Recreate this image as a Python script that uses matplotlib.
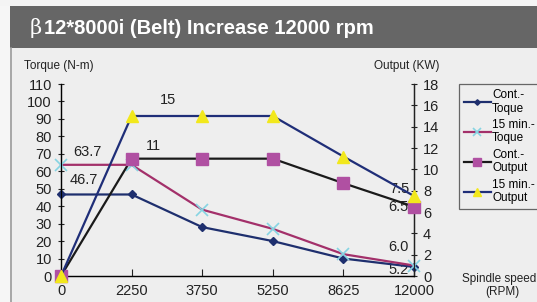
import matplotlib
matplotlib.use("Agg")
import matplotlib.pyplot as plt
from matplotlib.patches import Rectangle
from matplotlib.lines import Line2D

plt.rcParams['font.family'] = ['Liberation Sans', 'DejaVu Sans']

speeds = ["0", "2250", "3750", "5250", "8625", "12000"]
cont_torque = [46.7, 46.7, 28, 20, 10, 5.2]
min15_torque = [63.7, 63.7, 38, 27, 12.5, 6.0]
cont_output = [0, 11, 11, 11, 8.7, 6.5]
min15_output = [0, 15, 15, 15, 11.2, 7.5]

W, H = 537, 302
fig = plt.figure(figsize=(W / 100, H / 100), dpi=100)
fig.patch.set_facecolor('#eeeeee')

# background decoration
fig.patches.append(Rectangle((0, 0), 10 / W, 1, transform=fig.transFigure,
                             facecolor='#f6f6f6', edgecolor='none', zorder=0))
fig.patches.append(Rectangle((0, 1 - 6 / H), 1, 6 / H, transform=fig.transFigure,
                             facecolor='#f4f4f4', edgecolor='none', zorder=0))
fig.patches.append(Rectangle((10 / W, 1 - 48 / H), 1, 42 / H, transform=fig.transFigure,
                             facecolor='#666666', edgecolor='none', zorder=1))
fig.lines.append(Line2D([11 / W, 11 / W], [0, 1 - 48 / H], transform=fig.transFigure,
                        color='#9a9a9a', lw=1.2))
fig.text(30 / W, 1 - 28 / H, "\u03b2", color='white', fontsize=15,
         va='center', ha='left', family=['DejaVu Serif'])
fig.text(44 / W, 1 - 28 / H, "12*8000i (Belt) Increase 12000 rpm", color='white',
         fontsize=14.5, fontweight='bold', va='center', ha='left')

ax = fig.add_axes([61 / W, (302 - 276) / H, (414 - 61) / W, (276 - 84) / H])
ax.set_facecolor('none')
x = list(range(len(speeds)))
ax.set_xlim(0, len(speeds) - 1)
ax.set_ylim(0, 110)
ax.set_yticks(range(0, 111, 10))
ax.set_xticks(x)
ax.set_xticklabels(speeds)
ax.spines['top'].set_visible(False)
for s in ['left', 'bottom', 'right']:
    ax.spines[s].set_color('#222222')
    ax.spines[s].set_linewidth(1.0)
ax.tick_params(axis='both', direction='inout', length=5, width=0.8, labelsize=10.5,
               colors='#222222', pad=4)
ax.tick_params(axis='x', direction='in', length=5, pad=6)

ax2 = ax.twinx()
ax2.set_ylim(0, 18)
ax2.set_yticks(range(0, 19, 2))
ax2.spines['top'].set_visible(False)
ax2.spines['right'].set_color('#222222')
ax2.tick_params(axis='y', direction='inout', length=5, width=0.8, labelsize=10.5,
                colors='#222222', pad=4)

navy = '#1e2f6e'
l1, = ax.plot(x, cont_torque, color=navy, lw=1.6, marker='D', ms=4,
              mfc=navy, mec=navy, clip_on=False, zorder=5)
l2, = ax.plot(x, min15_torque, color='#a3306a', lw=1.6, marker='x', ms=8,
              mec='#86d4e2', mew=1.2, clip_on=False, zorder=5)
l3, = ax2.plot(x, cont_output, color='#1a1a1a', lw=1.6, marker='s', ms=8,
               mfc='#b050a2', mec='#b050a2', clip_on=False, zorder=5)
l4, = ax2.plot(x, min15_output, color='#1f2e78', lw=1.6, marker='^', ms=8,
               mfc='#f2e81c', mec='#f2e81c', clip_on=False, zorder=6)

# value labels
ax.text(0.17, 67, "63.7", fontsize=10.5, color='#222222', va='bottom')
ax.text(0.12, 51, "46.7", fontsize=10.5, color='#222222', va='bottom')
ax2.text(1.4, 15.8, "15", fontsize=10.5, color='#222222', va='bottom')
ax2.text(1.2, 11.5, "11", fontsize=10.5, color='#222222', va='bottom')
ax2.text(4.93, 7.5, "7.5", fontsize=10.5, color='#222222', va='bottom', ha='right')
ax2.text(4.92, 5.8, "6.5", fontsize=10.5, color='#222222', va='bottom', ha='right')
ax.text(4.92, 12.5, "6.0", fontsize=10.5, color='#222222', va='bottom', ha='right')
ax.text(4.92, -0.5, "5.2", fontsize=10.5, color='#222222', va='bottom', ha='right')

fig.text(24 / W, 1 - 66 / H, "Torque (N-m)", fontsize=8.5, color='#222222', va='center')
fig.text(440 / W, 1 - 66 / H, "Output (KW)", fontsize=8.5, color='#222222', va='center', ha='right')
fig.text(536 / W, 1 - 279 / H, "Spindle speed", fontsize=8.5, color='#222222', va='center', ha='right')
fig.text(502 / W, 1 - 292 / H, "(RPM)", fontsize=8.5, color='#222222', va='center', ha='center')

leg = fig.legend([l1, l2, l3, l4],
                 ["Cont.-\nToque", "15 min.-\nToque", "Cont.-\nOutput", "15 min.-\nOutput"],
                 loc='upper left', bbox_to_anchor=(459 / W, 1 - 84 / H),
                 fontsize=8.5, frameon=True, fancybox=False, handlelength=2.3,
                 handletextpad=0.1, labelspacing=0.35, borderpad=0.4, markerscale=0.7,
                 borderaxespad=0)
leg.get_frame().set_edgecolor('#444444')
leg.get_frame().set_facecolor('#eeeeee')
leg.get_frame().set_linewidth(0.9)

fig.savefig("out.png", dpi=100, facecolor=fig.get_facecolor())
